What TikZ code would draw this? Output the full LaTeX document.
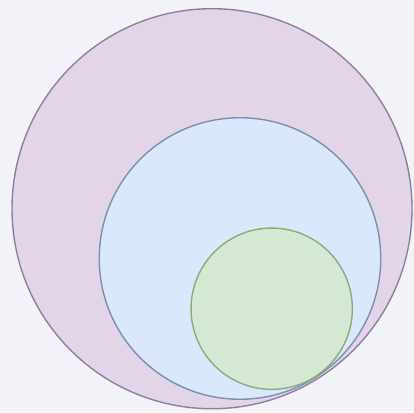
\documentclass[tikz,border=0pt]{standalone}
\definecolor{bgc}{HTML}{F1F3F8}
\definecolor{purfill}{HTML}{E1D5E7}
\definecolor{purline}{HTML}{8F7F9C}
\definecolor{bluefill}{HTML}{DAE8FC}
\definecolor{blueline}{HTML}{7C8FB2}
\definecolor{grnfill}{HTML}{D5E8D4}
\definecolor{grnline}{HTML}{88AD78}
\begin{document}
\begin{tikzpicture}[x=1pt,y=-1pt,
  ring/.style={circle,inner sep=0pt,outer sep=0pt,line width=1.4pt}]
\fill[bgc] (0,0) rectangle (414,412);
\useasboundingbox (0,0) rectangle (414,412);
\node[ring,draw=purline,fill=purfill,minimum size=400pt] (outer) at (212,208.7) {};
\node[ring,draw=blueline,fill=bluefill,minimum size=281.5pt] (mid) at (240,258.5) {};
\node[ring,draw=grnline,fill=grnfill,minimum size=161.3pt] (inner) at (271.7,308.7) {};
\end{tikzpicture}
\end{document}
